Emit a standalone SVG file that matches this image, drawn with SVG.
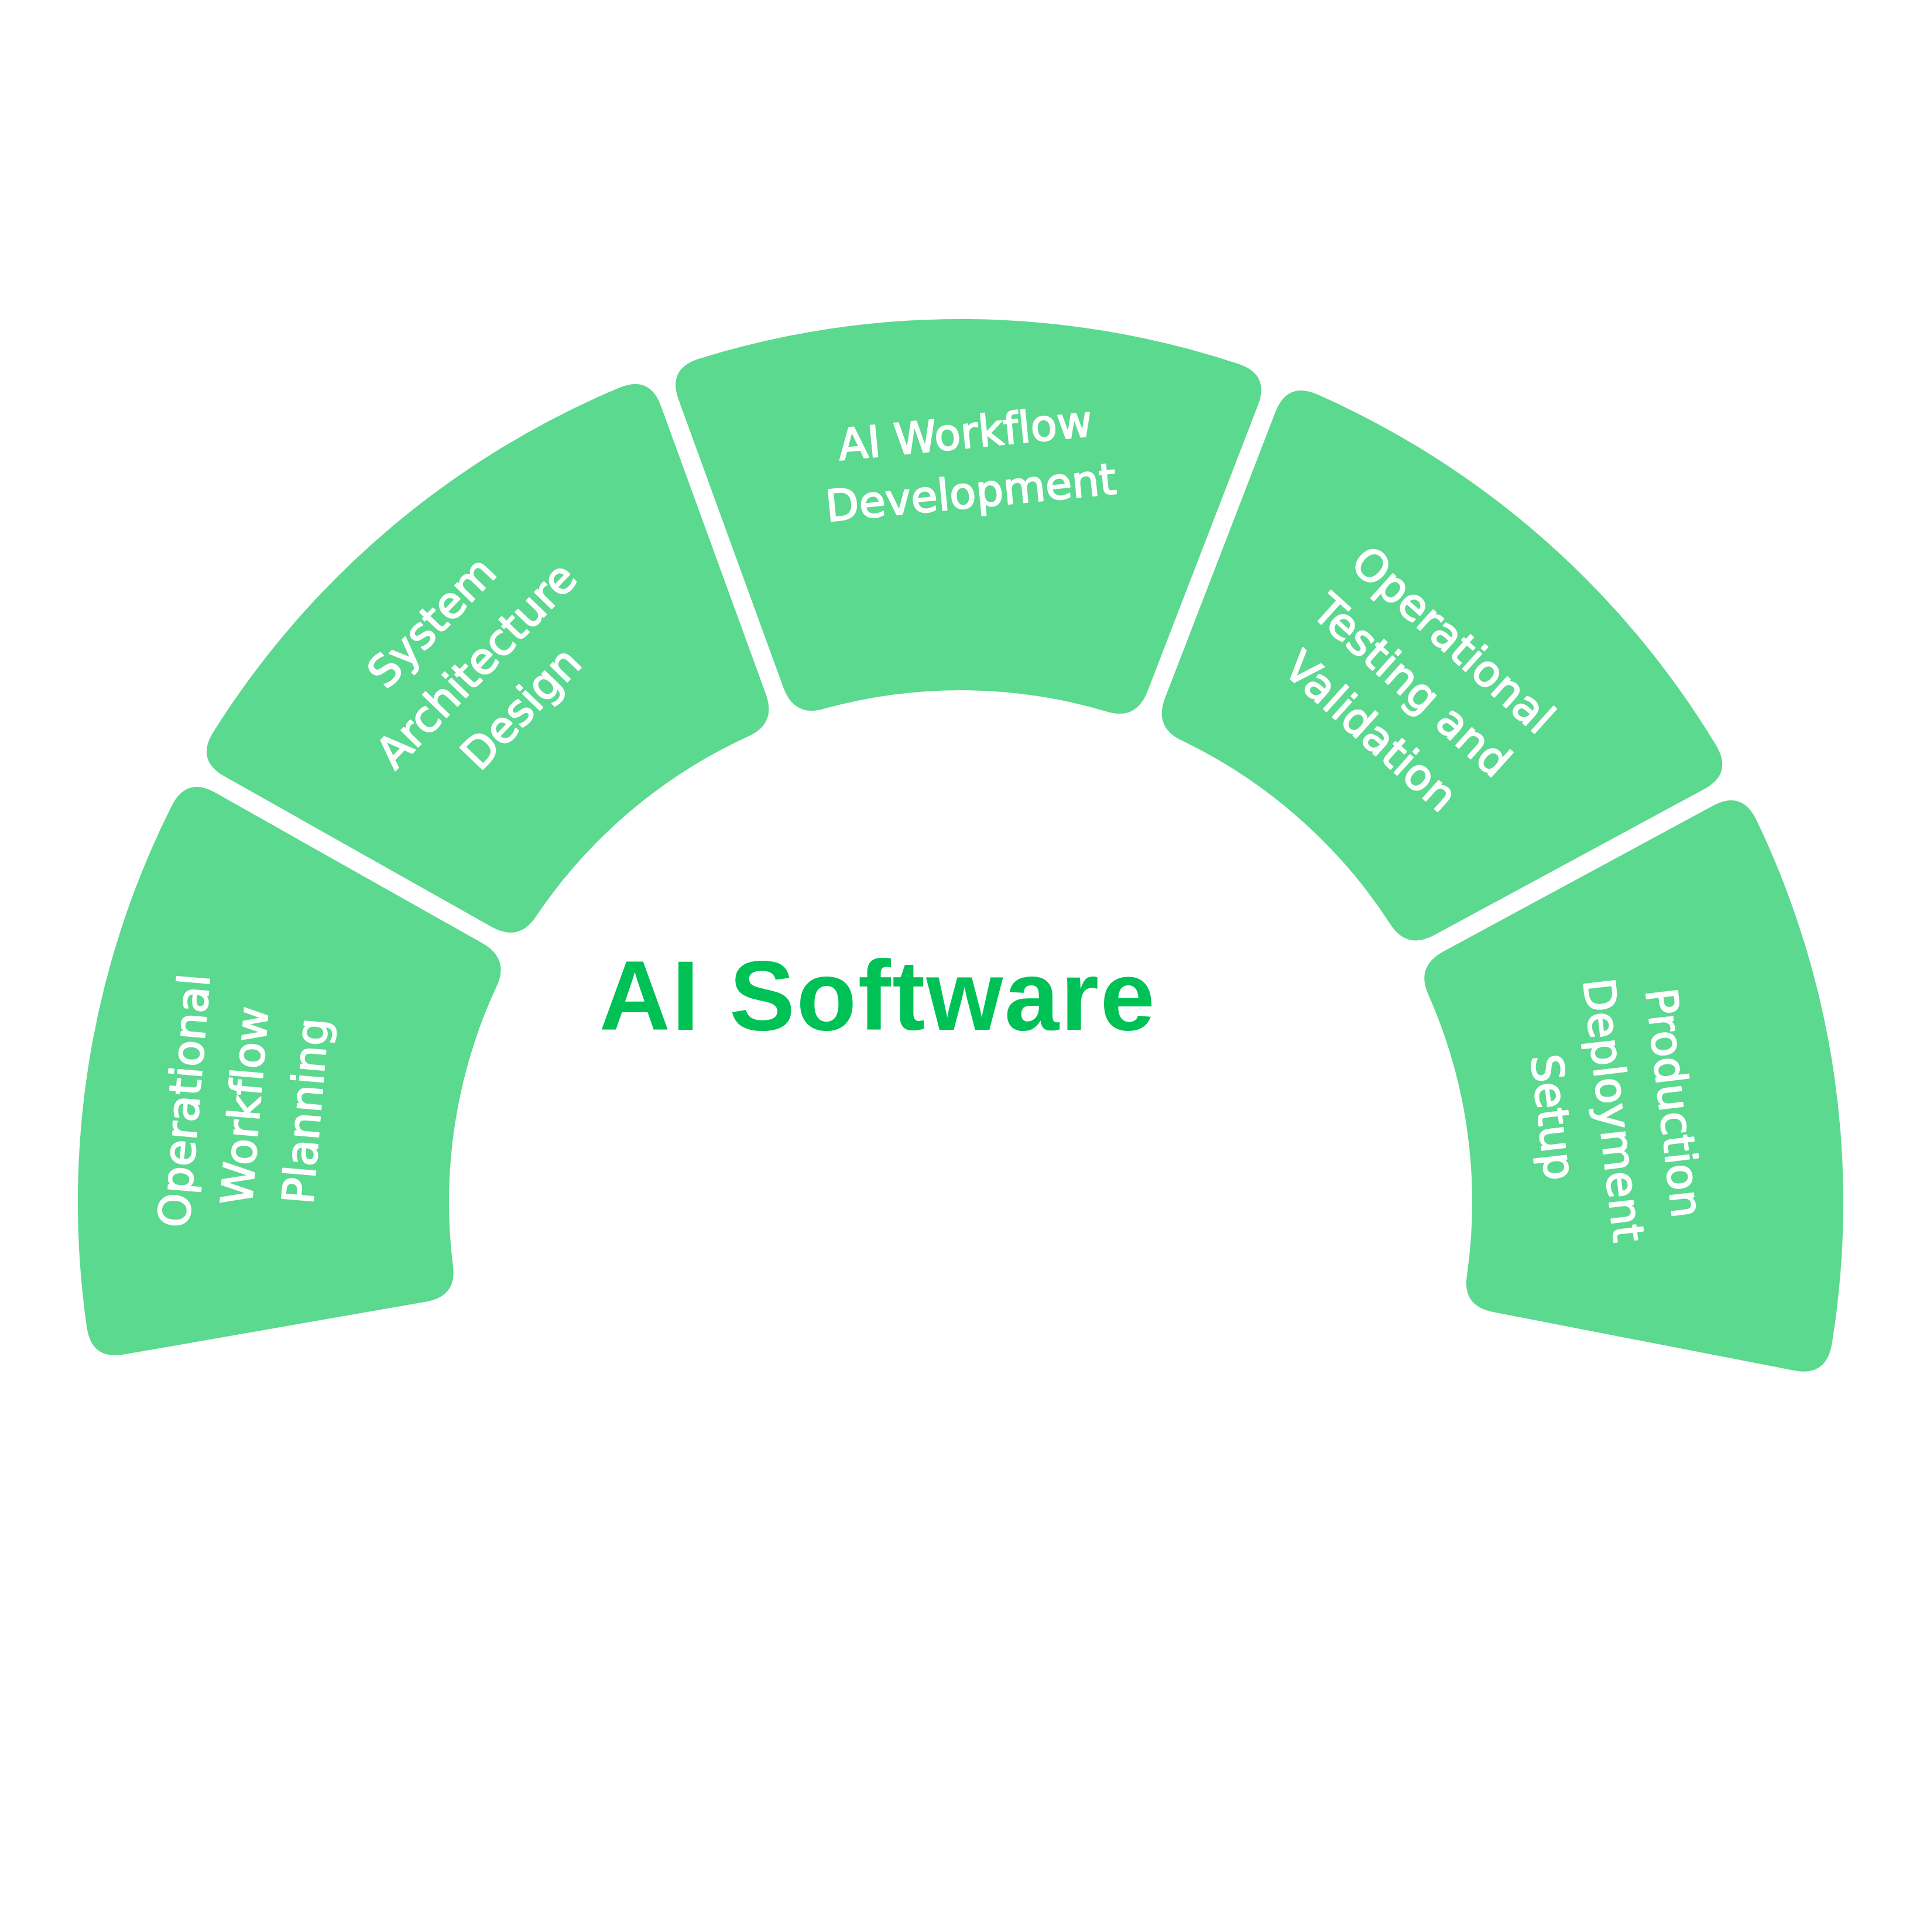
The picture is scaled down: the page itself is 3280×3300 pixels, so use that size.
<svg xmlns="http://www.w3.org/2000/svg" width="3280" height="3300" viewBox="0 0 3280 3300">
<style>
.seg{fill:#5BD98F;}
.lbl{font-family:"DejaVu Sans","Liberation Sans",sans-serif;font-size:74px;fill:#FFFFFF;stroke:#FFFFFF;stroke-width:2.2;stroke-linejoin:round;text-anchor:middle;font-variant-ligatures:none;}
.title{font-family:"Liberation Sans",Arial,sans-serif;font-weight:bold;font-size:168px;letter-spacing:2.5px;fill:#FFFFFF;text-anchor:middle;}
.hl{fill:#00C155;}
</style>
<rect x="0" y="0" width="3280" height="3300" fill="#FFFFFF"/>
<g id="connectors"></g>
<g id="seg1">
<path class="seg" d="M 293.8 1375.4 A 1508 1508 0 0 0 148.5 2268.8 Q 157.4 2323.1 211.5 2313.6 L 727.7 2223.5 Q 782.0 2214.1 773.5 2159.8 A 874 874 0 0 1 847.3 1687.1 Q 871.8 1638.0 823.7 1610.8 L 367.2 1353.6 Q 319.4 1326.7 293.8 1375.4 Z"/>
<g transform="translate(444,1891) rotate(-85.2)">
<text class="lbl" x="0" y="-104">Operational</text>
<text class="lbl" x="0" y="0">Workflow</text>
<text class="lbl" x="0" y="104">Planning</text>
</g>
</g>
<g id="seg2">
<path class="seg" d="M 1059.1 661.8 A 1508 1508 0 0 0 363.5 1251.7 Q 335.1 1298.8 383.0 1325.8 L 839.5 1583.0 Q 887.5 1610.1 916.9 1563.6 A 874 874 0 0 1 1276.4 1258.7 Q 1327.1 1237.3 1308.3 1185.5 L 1129.0 693.1 Q 1110.2 641.5 1059.1 661.8 Z"/>
<g transform="translate(832,1154) rotate(-46)">
<text class="lbl" x="0" y="-106">System</text>
<text class="lbl" x="0" y="0">Architecture</text>
<text class="lbl" x="0" y="106">Design</text>
</g>
</g>
<g id="seg3">
<path class="seg" d="M 2117.1 622.1 A 1508 1508 0 0 0 1192.5 613.2 Q 1140.3 630.5 1159.0 682.1 L 1338.3 1174.5 Q 1357.2 1226.4 1409.7 1210.1 A 874 874 0 0 1 1888.4 1214.7 Q 1940.7 1232.0 1960.5 1180.5 L 2149.2 691.6 Q 2168.9 640.4 2117.1 622.1 Z"/>
<g transform="translate(1656,816) rotate(-5.5)">
<text class="lbl" x="0" y="-51">AI Workflow</text>
<text class="lbl" x="0" y="51">Development</text>
</g>
</g>
<g id="seg4">
<path class="seg" d="M 2932.3 1274.1 A 1508 1508 0 0 0 2249.5 673.2 Q 2198.8 651.9 2179.0 703.2 L 1990.3 1192.1 Q 1970.5 1243.5 2020.8 1265.8 A 874 874 0 0 1 2373.6 1576.3 Q 2402.1 1623.3 2450.6 1597.0 L 2911.6 1347.8 Q 2959.8 1321.7 2932.3 1274.1 Z"/>
<g transform="translate(2395,1190) rotate(42)">
<text class="lbl" x="0" y="-105">Operational</text>
<text class="lbl" x="0" y="0">Testing and</text>
<text class="lbl" x="0" y="105">Validation</text>
</g>
</g>
<g id="seg5">
<path class="seg" d="M 3129.1 2297.4 A 1508 1508 0 0 0 2999.8 1399.0 Q 2975.1 1349.9 2926.8 1376.0 L 2465.8 1625.2 Q 2417.3 1651.4 2441.0 1701.0 A 874 874 0 0 1 2506.3 2176.4 Q 2496.8 2230.6 2550.8 2241.1 L 3065.2 2341.0 Q 3119.2 2351.5 3129.1 2297.4 Z"/>
<g transform="translate(2731,1899) rotate(83.3)">
<text class="lbl" x="0" y="-104">Production</text>
<text class="lbl" x="0" y="0">Deployment</text>
<text class="lbl" x="0" y="104">Setup</text>
</g>
</g>
<g id="title">
<text class="title" x="1640" y="1592">Building</text>
<text class="title" x="1640" y="1759"><tspan class="hl">AI Software</tspan> for</text>
<text class="title" x="1640" y="1929">Operational</text>
<text class="title" x="1640" y="2096">Execution</text>
</g>
</svg>
